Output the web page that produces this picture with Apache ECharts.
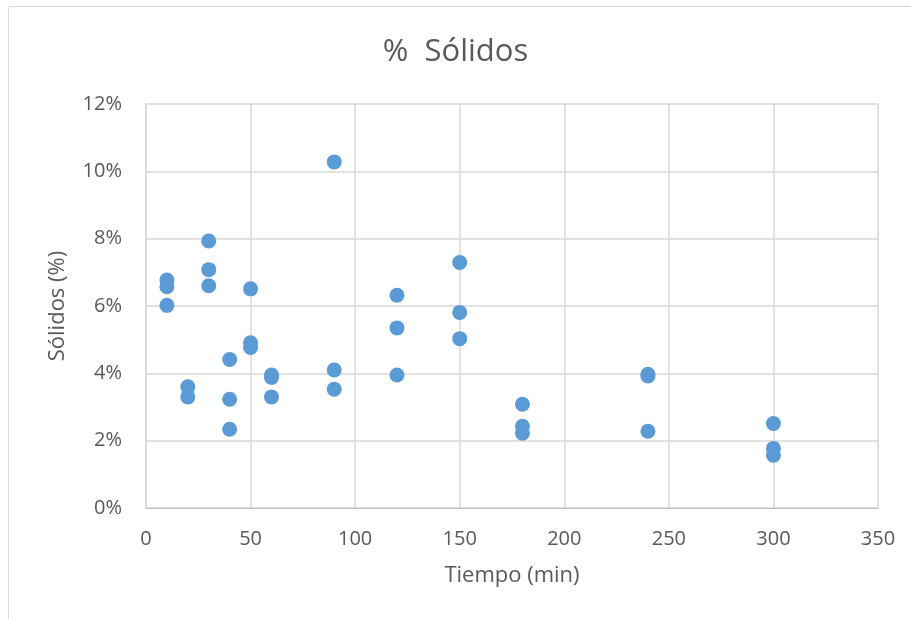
<!DOCTYPE html>
<html><head><meta charset="utf-8">
<script src="https://cdn.jsdelivr.net/npm/echarts@6/dist/echarts.min.js"></script>
<style>html,body{margin:0;padding:0;background:#fff}#c{width:911px;height:619px}</style>
</head><body><div id="c"></div>
<script>
const title = '%  Sólidos';
const xName = 'Tiempo (min)';
const yName = 'Sólidos (%)';
const tiempo = [10,10,10, 20,20, 30,30,30, 40,40,40, 50,50,50, 60,60,60, 90,90,90, 120,120,120, 150,150,150, 180,180,180, 240,240,240, 300,300,300];
const solidos = [6.77,6.57,6.02, 3.60,3.30, 7.93,7.08,6.60, 4.41,3.23,2.34, 6.51,4.91,4.77, 3.95,3.88,3.30, 10.28,4.10,3.53, 6.32,5.35,3.95, 7.29,5.81,5.03, 3.08,2.43,2.22, 3.97,3.92,2.28, 2.51,1.77,1.57];
const font = '"Open Sans", "Noto Sans", sans-serif';
const txt = '#595959';
const chart = echarts.init(document.getElementById('c'), null, {renderer:'canvas'});
chart.setOption({
  animation:false,
  backgroundColor:'#fff',
  title:{text:title,left:'center',top:32,textStyle:{fontFamily:font,fontSize:31,fontWeight:'normal',color:txt}},
  graphic:[
    {type:'line',shape:{x1:8.5,y1:6.5,x2:911,y2:6.5},style:{stroke:'#d9d9d9',lineWidth:1}},
    {type:'line',shape:{x1:8.5,y1:6.5,x2:8.5,y2:619},style:{stroke:'#d9d9d9',lineWidth:1}}
  ],
  grid:{left:146,right:33,top:104,bottom:111},
  xAxis:{type:'value',min:0,max:350,interval:50,
    name:xName,nameLocation:'middle',nameGap:57,
    nameTextStyle:{fontFamily:font,fontSize:22,color:txt},
    axisLine:{show:true,lineStyle:{color:'#bfbfbf'}},axisTick:{show:false},
    axisLabel:{fontFamily:font,fontSize:20,color:txt,margin:21},
    splitLine:{show:true,lineStyle:{color:'#d9d9d9',width:1.5}}},
  yAxis:{type:'value',min:0,max:12,interval:2,
    name:yName,nameLocation:'middle',nameGap:77,
    nameTextStyle:{fontFamily:font,fontSize:22,color:txt},
    axisLine:{show:true,lineStyle:{color:'#d9d9d9',width:1.5}},axisTick:{show:false},
    axisLabel:{fontFamily:font,fontSize:20,color:txt,margin:24,formatter:v=>v+'%'},
    splitLine:{show:true,lineStyle:{color:'#d9d9d9',width:1.5}}},
  series:[{type:'scatter',symbolSize:15,itemStyle:{color:'#5b9bd5',opacity:1},
    data:tiempo.map((t,i)=>[t,solidos[i]])}]
});
</script></body></html>
